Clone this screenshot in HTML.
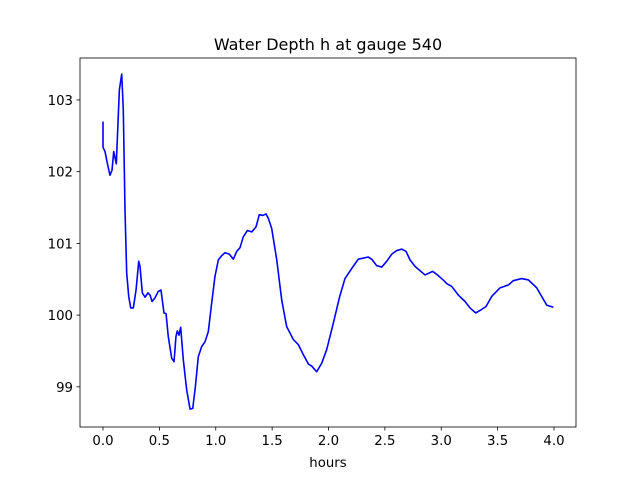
<!DOCTYPE html>
<html><head><meta charset="utf-8"><style>
body{margin:0;background:#fff;font-family:"DejaVu Sans","Liberation Sans",sans-serif}
</style></head><body>
<svg id="chart" width="640" height="480" xmlns="http://www.w3.org/2000/svg" font-family="DejaVu Sans, Liberation Sans, sans-serif"></svg>
<script>
const hours=[0,0,0.018,0.038,0.062,0.080,0.095,0.118,0.145,0.166,0.180,0.195,0.210,0.228,0.246,0.269,0.293,0.317,0.328,0.349,0.373,0.399,0.417,0.435,0.461,0.490,0.514,0.541,0.559,0.579,0.609,0.630,0.647,0.659,0.674,0.689,0.712,0.742,0.772,0.796,0.819,0.845,0.875,0.905,0.934,0.964,0.993,1.023,1.053,1.082,1.120,1.156,1.186,1.215,1.244,1.280,1.319,1.357,1.386,1.416,1.446,1.466,1.496,1.541,1.585,1.629,1.688,1.732,1.776,1.821,1.851,1.895,1.940,1.984,2.043,2.096,2.146,2.206,2.264,2.353,2.383,2.427,2.472,2.516,2.561,2.605,2.649,2.687,2.723,2.767,2.856,2.924,2.974,3.024,3.048,3.093,3.151,3.211,3.255,3.306,3.359,3.397,3.447,3.521,3.595,3.639,3.713,3.773,3.847,3.891,3.935,3.994];
const depth=[102.70,102.34,102.28,102.12,101.95,102.02,102.28,102.11,103.14,103.36,102.86,101.47,100.59,100.26,100.10,100.10,100.35,100.75,100.68,100.31,100.25,100.31,100.28,100.19,100.24,100.33,100.35,100.03,100.02,99.70,99.40,99.35,99.70,99.78,99.72,99.83,99.38,98.96,98.69,98.70,99.00,99.42,99.56,99.63,99.77,100.17,100.54,100.77,100.83,100.87,100.85,100.78,100.89,100.94,101.09,101.18,101.16,101.23,101.40,101.39,101.41,101.35,101.21,100.77,100.21,99.84,99.66,99.59,99.45,99.32,99.29,99.21,99.33,99.52,99.89,100.24,100.51,100.65,100.78,100.81,100.78,100.69,100.67,100.75,100.85,100.90,100.92,100.89,100.77,100.68,100.56,100.61,100.55,100.48,100.44,100.40,100.28,100.19,100.10,100.03,100.08,100.12,100.26,100.38,100.42,100.48,100.51,100.49,100.38,100.26,100.14,100.11];
const xTicks=[0,0.5,1,1.5,2,2.5,3,3.5,4];
const xTickLabels=["0.0","0.5","1.0","1.5","2.0","2.5","3.0","3.5","4.0"];
const yTicks=[99,100,101,102,103];
const yTickLabels=["99","100","101","102","103"];
const L=80,R=576,T=58,B=427;
const xMin=-0.204,xMax=4.195,yMin=98.44,yMax=103.585;
const X=v=>L+(v-xMin)/(xMax-xMin)*(R-L);
const Y=v=>B-(v-yMin)/(yMax-yMin)*(B-T);
const svg=document.getElementById('chart');
const NS="http://www.w3.org/2000/svg";
function mk(tag,attrs,parent){const e=document.createElementNS(NS,tag);for(const k in attrs)e.setAttribute(k,attrs[k]);(parent||svg).appendChild(e);return e;}
let d=hours.map((h,i)=>(i?'L':'M')+X(h).toFixed(2)+','+Y(depth[i]).toFixed(2)).join('');
const line=mk('path',{d:d,fill:'none',stroke:'#0000ff','stroke-width':1.6,'stroke-linejoin':'round'});


const frame=mk('rect',{x:L,y:T,width:R-L,height:B-T,fill:'none',stroke:'#000','stroke-width':0.8});


xTicks.forEach((t,i)=>{const x=X(t);
 const tk=mk('line',{x1:x,x2:x,y1:B,y2:B+3.5,stroke:'#000','stroke-width':0.8});
 
 
 const tx=mk('text',{x:x,y:B+18,'text-anchor':'middle','font-size':13.3});
 tx.textContent=xTickLabels[i];
 
 
});
yTicks.forEach((t,i)=>{const y=Y(t);
 const tk=mk('line',{x1:L-3.5,x2:L,y1:y,y2:y,stroke:'#000','stroke-width':0.8});
 
 
 const tx=mk('text',{x:L-7,y:y+5,'text-anchor':'end','font-size':13.3});
 tx.textContent=yTickLabels[i];
 
 
});
const xl=mk('text',{x:(L+R)/2,y:467,'text-anchor':'middle','font-size':13.3});
xl.textContent='hours';


const ti=mk('text',{x:(L+R)/2,y:50,'text-anchor':'middle','font-size':16});
ti.textContent='Water Depth h at gauge 540';


</script>
</body></html>
